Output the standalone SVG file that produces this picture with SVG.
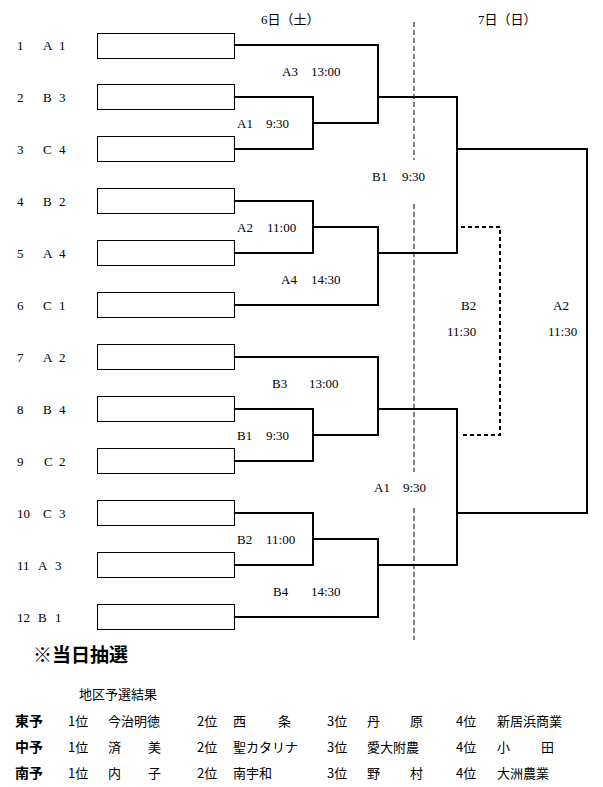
<svg xmlns="http://www.w3.org/2000/svg" width="603" height="787" viewBox="0 0 603 787">
<style>
.bg{fill:#fff}
.box{fill:#fff;stroke:#000;stroke-width:1}
.ln{fill:none;stroke:#000;stroke-width:2}
.dl{fill:none;stroke:#000;stroke-width:2;stroke-dasharray:4 3}
.tl{fill:none;stroke:#000;stroke-width:1;stroke-dasharray:5 3}
.t{font-family:"Liberation Serif","Noto Sans CJK JP",serif;font-size:13px;fill:#000}
.g{font-family:"Noto Sans CJK JP","Noto Sans",sans-serif;font-size:13px;fill:#000}
.b{font-family:"Noto Sans CJK JP",sans-serif;font-weight:bold;fill:#000}
</style>
<rect class="bg" x="0" y="0" width="603" height="787"/>
<g id="headers">
<text class="t" x="261" y="24">6日（土）</text>
<text class="t" x="478" y="24">7日（日）</text>
</g>
<g id="connectors">
<path class="tl" d="M414 22V160M414 204V472M414 508V640"/>
<path class="ln" d="M234 45H378V123H313M234 97H313V149H234M378 97H457V253H378M234 201H313V253H234M313 227H378V305H234M457 149H587V513H457"/>
<path class="ln" d="M234 357H378V435H313M234 409H313V461H234M378 409H457V565H378M234 513H313V565H234M313 539H378V617H234"/>
<path class="dl" d="M461 227H500V435H461"/>
</g>
<g id="team1"><text class="t" x="17" y="50">1</text><text class="t" x="43" y="50">A<tspan x="59">1</tspan></text><rect class="box" x="97.5" y="33.5" width="137" height="25"/></g>
<g id="team2"><text class="t" x="17" y="102">2</text><text class="t" x="43" y="102">B<tspan x="59">3</tspan></text><rect class="box" x="97.5" y="84.5" width="137" height="25"/></g>
<g id="team3"><text class="t" x="17" y="154">3</text><text class="t" x="43" y="154">C<tspan x="59">4</tspan></text><rect class="box" x="97.5" y="136.5" width="137" height="25"/></g>
<g id="team4"><text class="t" x="17" y="206">4</text><text class="t" x="43" y="206">B<tspan x="59">2</tspan></text><rect class="box" x="97.5" y="188.5" width="137" height="25"/></g>
<g id="team5"><text class="t" x="17" y="258">5</text><text class="t" x="43" y="258">A<tspan x="59">4</tspan></text><rect class="box" x="97.5" y="240.5" width="137" height="25"/></g>
<g id="team6"><text class="t" x="17" y="310">6</text><text class="t" x="43" y="310">C<tspan x="59">1</tspan></text><rect class="box" x="97.5" y="292.5" width="137" height="25"/></g>
<g id="team7"><text class="t" x="17" y="362">7</text><text class="t" x="43" y="362">A<tspan x="59">2</tspan></text><rect class="box" x="97.5" y="344.5" width="137" height="25"/></g>
<g id="team8"><text class="t" x="17" y="414">8</text><text class="t" x="43" y="414">B<tspan x="59">4</tspan></text><rect class="box" x="97.5" y="396.5" width="137" height="25"/></g>
<g id="team9"><text class="t" x="17" y="466">9</text><text class="t" x="44" y="466">C<tspan x="59">2</tspan></text><rect class="box" x="97.5" y="448.5" width="137" height="25"/></g>
<g id="team10"><text class="t" x="17" y="518">10</text><text class="t" x="43" y="518">C<tspan x="59">3</tspan></text><rect class="box" x="97.5" y="500.5" width="137" height="25"/></g>
<g id="team11"><text class="t" x="17" y="570">11</text><text class="t" x="38" y="570">A<tspan x="55">3</tspan></text><rect class="box" x="97.5" y="552.5" width="137" height="25"/></g>
<g id="team12"><text class="t" x="17" y="622">12</text><text class="t" x="38" y="622">B<tspan x="55">1</tspan></text><rect class="box" x="97.5" y="604.5" width="137" height="25"/></g>
<g id="match-labels">
<text class="t" x="282" y="76">A3<tspan x="311">13:00</tspan></text>
<text class="t" x="237" y="128">A1<tspan x="266">9:30</tspan></text>
<text class="t" x="372" y="181">B1<tspan x="402">9:30</tspan></text>
<text class="t" x="237" y="232">A2<tspan x="267">11:00</tspan></text>
<text class="t" x="281" y="284">A4<tspan x="311">14:30</tspan></text>
<text class="t" x="461" y="310">B2</text>
<text class="t" x="447" y="336">11:30</text>
<text class="t" x="553" y="310">A2</text>
<text class="t" x="548" y="336">11:30</text>
<text class="t" x="272" y="388">B3<tspan x="309">13:00</tspan></text>
<text class="t" x="237" y="440">B1<tspan x="266">9:30</tspan></text>
<text class="t" x="374" y="492">A1<tspan x="403">9:30</tspan></text>
<text class="t" x="237" y="544">B2<tspan x="266">11:00</tspan></text>
<text class="t" x="273" y="596">B4<tspan x="311">14:30</tspan></text>
</g>
<g id="notes">
<text class="b" x="33" y="662" font-size="19">※当日抽選</text>
<text class="g" x="79" y="699" font-size="14">地区予選結果</text>
<text class="b" x="15" y="726" font-size="14">東予</text>
<text class="b" x="15" y="752" font-size="14">中予</text>
<text class="b" x="15" y="778" font-size="14">南予</text>
<g class="g">
<text x="68" y="726">1位</text><text x="108" y="726">今治明徳</text>
<text x="197" y="726">2位</text><text x="233" y="726">西</text><text x="278" y="726">条</text>
<text x="327" y="726">3位</text><text x="367" y="726">丹</text><text x="410" y="726">原</text>
<text x="456" y="726">4位</text><text x="497" y="726">新居浜商業</text>
<text x="68" y="752">1位</text><text x="108" y="752">済</text><text x="148" y="752">美</text>
<text x="197" y="752">2位</text><text x="233" y="752">聖カタリナ</text>
<text x="327" y="752">3位</text><text x="367" y="752">愛大附農</text>
<text x="456" y="752">4位</text><text x="497" y="752">小</text><text x="541" y="752">田</text>
<text x="68" y="778">1位</text><text x="108" y="778">内</text><text x="148" y="778">子</text>
<text x="197" y="778">2位</text><text x="233" y="778">南宇和</text>
<text x="327" y="778">3位</text><text x="367" y="778">野</text><text x="410" y="778">村</text>
<text x="456" y="778">4位</text><text x="497" y="778">大洲農業</text>
</g>
</g>
</svg>
